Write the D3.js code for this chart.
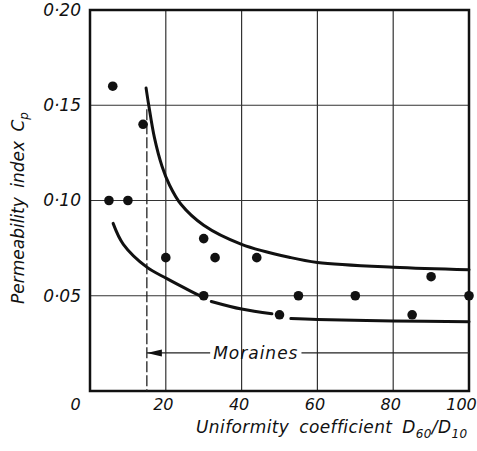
<!DOCTYPE html>
<html>
<head>
<meta charset="utf-8">
<script src="https://cdn.jsdelivr.net/npm/d3@7"></script>
<style>
  body { margin: 0; background: #fff; }
  text { font-family: 'DejaVu Sans', sans-serif; font-style: italic; fill: #111; }
</style>
</head>
<body>
<div id="chart"></div>
<script>
var xTicks = [0, 20, 40, 60, 80, 100];
var yTicks = [0.05, 0.10, 0.15, 0.20];

// measured points
var dotsX = [5, 6, 10, 14, 20, 30, 30, 33, 44, 50, 55, 70, 85, 90, 100];
var dotsY = [0.10, 0.16, 0.10, 0.14, 0.07, 0.08, 0.05, 0.07, 0.07, 0.04, 0.05, 0.05, 0.04, 0.06, 0.05];

// upper envelope
var upperX = [14.8, 15.5, 17, 19, 21, 24, 30, 40, 53, 60, 80, 100];
var upperY = [0.159, 0.150, 0.133, 0.118, 0.108, 0.098, 0.087, 0.077, 0.070, 0.0675, 0.065, 0.0637];

// lower envelope, drawn in broken pieces
var lowerX1 = [6.1, 8.8, 15, 20.3, 26.4, 29.5];
var lowerY1 = [0.088, 0.077, 0.065, 0.059, 0.0526, 0.0495];
var lowerX2 = [32, 40, 48];
var lowerY2 = [0.047, 0.043, 0.0405];
var lowerX3 = [53, 60, 80, 100];
var lowerY3 = [0.038, 0.0375, 0.0368, 0.0363];

var moraineLimit = 15;
var moraineLevel = 0.02;

var margin = {top: 10, right: 8, bottom: 60, left: 90};
var W = 477, H = 451;
var width = W - margin.left - margin.right;
var height = H - margin.top - margin.bottom;

var svg = d3.select("#chart").append("svg")
    .attr("width", W)
    .attr("height", H);

var g = svg.append("g")
    .attr("transform", "translate(" + margin.left + "," + margin.top + ")");

var xScale = d3.scaleLinear().domain([0, 100]).range([0, width]);
var yScale = d3.scaleLinear().domain([0, 0.2]).range([height, 0]);

function zip(xs, ys) { return xs.map(function(x, i) { return [x, ys[i]]; }); }

//grid
g.selectAll(".vgrid")
  .data(xTicks.slice(1, -1))
  .enter().append("line")
  .attr("x1", d => xScale(d)).attr("x2", d => xScale(d))
  .attr("y1", 0).attr("y2", height)
  .attr("stroke", "#333").attr("stroke-width", 1.2);

g.selectAll(".hgrid")
  .data(yTicks.slice(0, -1))
  .enter().append("line")
  .attr("x1", 0).attr("x2", width)
  .attr("y1", d => yScale(d)).attr("y2", d => yScale(d))
  .attr("stroke", "#333").attr("stroke-width", 1.2);

//frame
g.append("rect")
  .attr("x", 0).attr("y", 0)
  .attr("width", width).attr("height", height)
  .attr("fill", "none")
  .attr("stroke", "#111")
  .attr("stroke-width", 2.5);

//axes labels
var yAxis = g.append("g")
  .call(d3.axisLeft(yScale).tickValues(yTicks).tickSize(0).tickPadding(9)
          .tickFormat(d => d3.format(".2f")(d).replace(".", "\u00b7")));
yAxis.select(".domain").remove();
yAxis.selectAll("text")
  .style("font-size", "17px")
  .style("font-family", "'DejaVu Sans', sans-serif")
  .style("font-style", "italic")
  .attr("fill", "#111");

var xAxis = g.append("g")
  .attr("transform", "translate(0," + height + ")")
  .call(d3.axisBottom(xScale).tickValues(xTicks).tickSize(0).tickPadding(8));
xAxis.select(".domain").remove();
xAxis.selectAll("text")
  .style("font-size", "16px")
  .style("font-family", "'DejaVu Sans', sans-serif")
  .style("font-style", "italic")
  .attr("fill", "#111")
  .attr("dx", d => d === 0 ? -15 : (d === 100 ? -8 : -3));

//moraines limit
g.append("line")
  .attr("x1", xScale(moraineLimit)).attr("x2", xScale(moraineLimit))
  .attr("y1", yScale(0.15) + 4).attr("y2", height)
  .attr("stroke", "#222").attr("stroke-width", 1.3)
  .attr("stroke-dasharray", "11,3");

var mText = g.append("text")
  .attr("x", xScale(32.5))
  .attr("y", yScale(moraineLevel) + 6)
  .style("font-size", "17px")
  .style("letter-spacing", "1px")
  .text("Moraines");
var bb = mText.node().getBBox();

g.append("line")
  .attr("x1", xScale(moraineLimit)).attr("x2", bb.x - 3)
  .attr("y1", yScale(moraineLevel)).attr("y2", yScale(moraineLevel))
  .attr("stroke", "#222").attr("stroke-width", 1.2);
g.append("line")
  .attr("x1", bb.x + bb.width + 3).attr("x2", width)
  .attr("y1", yScale(moraineLevel)).attr("y2", yScale(moraineLevel))
  .attr("stroke", "#222").attr("stroke-width", 1.2);
var ax = xScale(moraineLimit), ay = yScale(moraineLevel);
g.append("path")
  .attr("d", "M" + ax + "," + ay + "L" + (ax + 15) + "," + (ay - 3.5) + "L" + (ax + 15) + "," + (ay + 3.5) + "Z")
  .attr("fill", "#111");

//curves
var line = d3.line()
  .curve(d3.curveCatmullRom)
  .x(d => xScale(d[0]))
  .y(d => yScale(d[1]));

[zip(upperX, upperY), zip(lowerX1, lowerY1), zip(lowerX2, lowerY2), zip(lowerX3, lowerY3)]
  .forEach(function(pts) {
    g.append("path")
      .attr("d", line(pts))
      .attr("fill", "none")
      .attr("stroke", "#111")
      .attr("stroke-width", 3)
      .attr("stroke-linecap", "round");
  });

//dots
g.selectAll(".dot")
  .data(zip(dotsX, dotsY))
  .enter().append("circle")
  .attr("cx", d => xScale(d[0]))
  .attr("cy", d => yScale(d[1]))
  .attr("r", 4.8)
  .attr("fill", "#111");

//titles
var xt = svg.append("text")
  .attr("x", 196)
  .attr("y", 433)
  .style("font-size", "17px")
  .style("letter-spacing", "0.4px")
  .style("word-spacing", "4px");
xt.append("tspan").text("Uniformity coefficient D");
xt.append("tspan").attr("dy", 5).style("font-size", "12px").text("60");
xt.append("tspan").attr("dy", -5).text("/D");
xt.append("tspan").attr("dy", 5).style("font-size", "12px").text("10");

var yt = svg.append("text")
  .attr("transform", "translate(24,304) rotate(-90)")
  .style("font-size", "17px")
  .style("word-spacing", "4px");
yt.append("tspan").text("Permeability index C");
yt.append("tspan").attr("dy", 4).style("font-size", "12px").text("p");
</script>
</body>
</html>
